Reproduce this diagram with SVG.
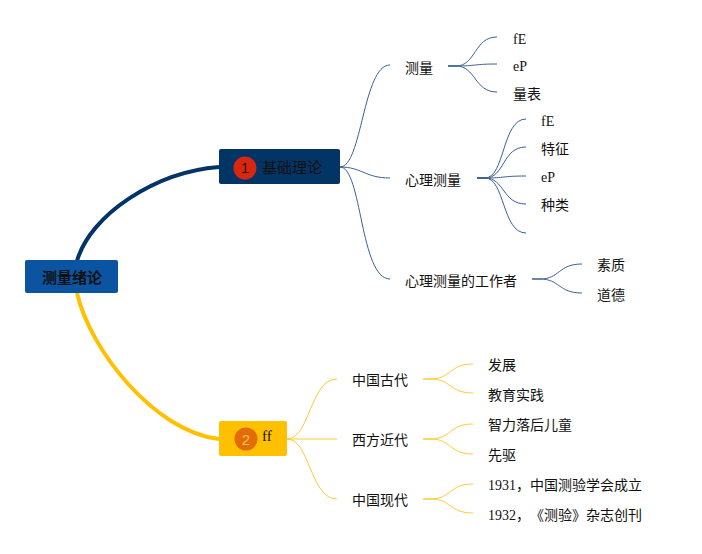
<svg xmlns="http://www.w3.org/2000/svg" width="702" height="554" viewBox="0 0 702 554">
<style>
text{font-family:"Liberation Serif","Noto Sans CJK SC",sans-serif;fill:#111;text-spacing-trim:space-all;}
.t14{font-size:14px;}
.sans{font-family:"Liberation Sans","Noto Sans CJK SC",sans-serif;}
.b{stroke:#3A6190;stroke-width:1;fill:none;}
.y{stroke:#FFCB33;stroke-width:1;fill:none;}
</style>
<rect width="702" height="554" fill="#ffffff"/>
<g id="connectors">
<path d="M77,261 C90,215 155,172 219,167" stroke="#033466" stroke-width="4" fill="none"/>
<path d="M77,293 C90,350 155,432 219,439" stroke="#FFC000" stroke-width="4" fill="none"/>
<path class="b" d="M340,167 C362,167 363,65 390,65"/>
<path class="b" d="M340,167 C362,167 365,178 390,178"/>
<path class="b" d="M340,167 C362,167 360,279 390,279"/>
<path class="b" d="M448,66 H456 C476,66 474,37 497,37"/>
<path class="b" d="M448,66 H456 C476,66 474,64 497,64"/>
<path class="b" d="M448,66 H456 C476,66 474,92 497,92"/>
<path class="b" d="M477,178 H485 C505,178 502,119 526,119"/>
<path class="b" d="M477,178 H485 C505,178 502,147 526,147"/>
<path class="b" d="M477,178 H485 C505,178 502,176 526,176"/>
<path class="b" d="M477,178 H485 C505,178 502,204 526,204"/>
<path class="b" d="M477,178 H485 C505,178 502,233 526,233"/>
<path class="b" d="M532,279 H540 C560,279 558,264 582,264"/>
<path class="b" d="M532,279 H540 C560,279 558,293 582,293"/>
<path class="y" d="M287,439 C310,439 310,379 337,379"/>
<path class="y" d="M287,439 H337"/>
<path class="y" d="M287,439 C310,439 310,499 337,499"/>
<path class="y" d="M423,379 H431 C451,379 449,364 473,364"/>
<path class="y" d="M423,379 H431 C451,379 449,393 473,393"/>
<path class="y" d="M423,439 H431 C451,439 449,424 473,424"/>
<path class="y" d="M423,439 H431 C451,439 449,454 473,454"/>
<path class="y" d="M423,499 H431 C451,499 449,484 473,484"/>
<path class="y" d="M423,499 H431 C451,499 449,513 473,513"/>
</g>
<g id="root">
<rect x="25" y="260" width="93" height="33" rx="2" fill="#0B54A2"/>
<text x="72" y="282.5" text-anchor="middle" class="sans" style="font-size:15px;font-weight:bold">测量绪论</text>
</g>
<g id="n-jichu">
<rect x="219" y="149" width="121" height="35" rx="2" fill="#033466"/>
<circle cx="245" cy="168" r="11.5" fill="#D9260F"/>
<text x="245" y="173" text-anchor="middle" class="sans" style="font-size:15px;fill:#2a1410">1</text>
<text x="262" y="172.5" style="font-size:15px;fill:#111">基础理论</text>
</g>
<g id="n-ff">
<rect x="219" y="421" width="68" height="35" rx="2" fill="#FFC000"/>
<circle cx="246" cy="439" r="11.5" fill="#E36C0A"/>
<text x="246" y="444.5" text-anchor="middle" class="sans" style="font-size:15px;fill:#FCC24A">2</text>
<text x="262" y="441" style="font-size:15px">ff</text>
</g>
<g id="n-celiang"><text class="t14" x="405" y="72.5">测量</text></g>
<g id="n-cl-fE"><text class="t14" x="513" y="44">fE</text></g>
<g id="n-cl-eP"><text class="t14" x="513" y="70.5">eP</text></g>
<g id="n-cl-lb"><text class="t14" x="513" y="98.5">量表</text></g>
<g id="n-xlcl"><text class="t14" x="405" y="185">心理测量</text></g>
<g id="n-x-fE"><text class="t14" x="541" y="126">fE</text></g>
<g id="n-x-tz"><text class="t14" x="541" y="153.5">特征</text></g>
<g id="n-x-eP"><text class="t14" x="541" y="181.5">eP</text></g>
<g id="n-x-zl"><text class="t14" x="541" y="210">种类</text></g>
<g id="n-gzz"><text class="t14" x="405" y="286">心理测量的工作者</text></g>
<g id="n-sz"><text class="t14" x="597" y="270">素质</text></g>
<g id="n-dd"><text class="t14" x="597" y="300">道德</text></g>
<g id="n-zggd"><text class="t14" x="352" y="385">中国古代</text></g>
<g id="n-fz"><text class="t14" x="488" y="370">发展</text></g>
<g id="n-jysj"><text class="t14" x="488" y="400">教育实践</text></g>
<g id="n-xfjd"><text class="t14" x="352" y="445">西方近代</text></g>
<g id="n-zlle"><text class="t14" x="488" y="430">智力落后儿童</text></g>
<g id="n-xq"><text class="t14" x="488" y="460">先驱</text></g>
<g id="n-zgxd"><text class="t14" x="352" y="505">中国现代</text></g>
<g id="n-1931"><text class="t14" x="488" y="490">1931，中国测验学会成立</text></g>
<g id="n-1932"><text class="t14" x="488" y="520">1932，《测验》杂志创刊</text></g>
</svg>
